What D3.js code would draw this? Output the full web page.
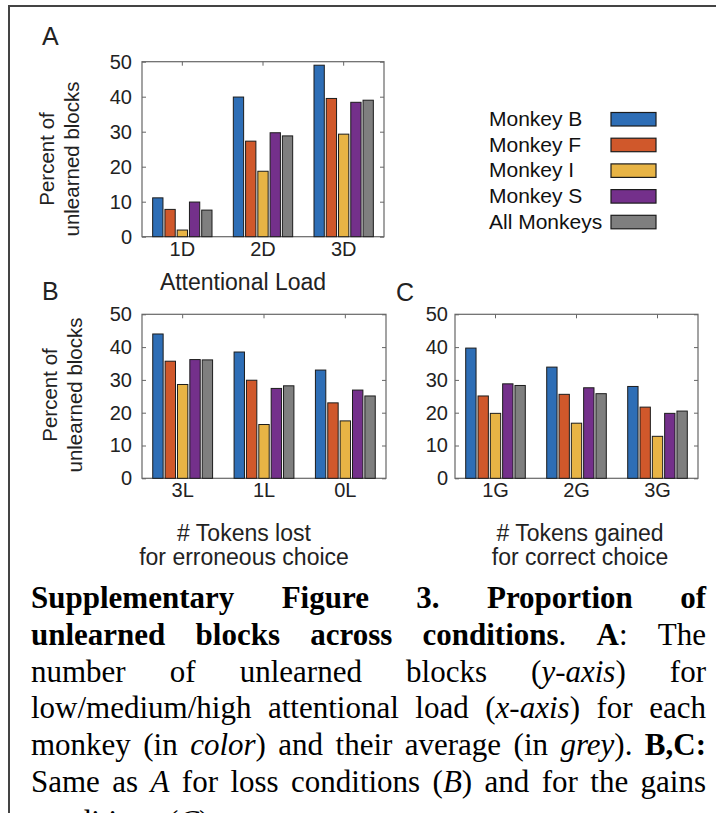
<!DOCTYPE html>
<html>
<head>
<meta charset="utf-8">
<script src="https://cdn.jsdelivr.net/npm/d3@7"></script>
<style>
  body { margin: 0; background: #fff; }
  svg { display: block; }
</style>
</head>
<body>
<div id="chart"></div>
<script>
const monkeys = ['Monkey B', 'Monkey F', 'Monkey I', 'Monkey S', 'All Monkeys'];
const colors = ['#2e6eb6', '#d0582b', '#e8b445', '#74308b', '#7f7f7f'];
const yTicks = [0, 10, 20, 30, 40, 50];

// panel A: attentional load
const loadCats = ['1D', '2D', '3D'];
const loadValues = [
  [11.1, 7.8, 1.9, 9.9, 7.6],
  [39.9, 27.3, 18.7, 29.7, 28.8],
  [49.0, 39.5, 29.3, 38.4, 39.0]
];
// panel B: tokens lost
const lossCats = ['3L', '1L', '0L'];
const lossValues = [
  [44.0, 35.7, 28.6, 36.2, 36.1],
  [38.5, 29.9, 16.4, 27.4, 28.2],
  [33.0, 23.0, 17.5, 26.9, 25.1]
];
// panel C: tokens gained
const gainCats = ['1G', '2G', '3G'];
const gainValues = [
  [39.7, 25.1, 19.8, 28.8, 28.3],
  [33.9, 25.6, 16.8, 27.6, 25.8],
  [28.0, 21.7, 12.8, 19.8, 20.5]
];

const captionLines = [
  '*Supplementary* *Figure* *3.* *Proportion* *of*',
  '*unlearned* *blocks* *across* *conditions*. *A*: The',
  'number of unlearned blocks (_y-axis_) for',
  'low/medium/high attentional load (_x-axis_) for each',
  'monkey (in _color_) and their average (in _grey_). *B,C:*',
  'Same as _A_ for loss conditions (_B_) and for the gains',
  'conditions (_C_).'
];

const width = 716, height = 813;
const sans = "'Liberation Sans', Arial, sans-serif";
const serif = "'Liberation Serif', 'Times New Roman', serif";

const svg = d3.select('#chart').append('svg')
  .attr('width', width)
  .attr('height', height);

// outer frame (left + top only, rest cropped)
svg.append('path')
  .attr('d', `M9,${height} V6 H${width}`)
  .attr('fill', 'none')
  .attr('stroke', '#444')
  .attr('stroke-width', 2);

function panel(p) {
  const g = svg.append('g');

  const x0 = d3.scaleBand()
    .domain(p.cats)
    .range([p.left, p.right])
    .padding(0);

  const gw = x0.bandwidth() * 0.76;
  const x1 = d3.scaleBand()
    .domain(d3.range(monkeys.length))
    .range([(x0.bandwidth() - gw) / 2, (x0.bandwidth() + gw) / 2])
    .paddingInner(0.16)
    .paddingOuter(0.08);

  const y = d3.scaleLinear()
    .domain([0, 50])
    .range([p.bottom, p.top]);

  // ticks pointing inward on all four sides
  const axes = [
    [d3.axisLeft(y).tickValues(yTicks).tickSize(-4).tickPadding(p.yPad), p.left, 0],
    [d3.axisRight(y).tickValues(yTicks).tickSize(-4).tickFormat(''), p.right, 0],
    [d3.axisTop(x0).tickSize(-4).tickFormat(''), 0, p.top],
    [d3.axisBottom(x0).tickSize(-4).tickPadding(5), 0, p.bottom]
  ];
  axes.forEach(([ax, tx, ty]) => {
    const a = g.append('g')
      .attr('transform', `translate(${tx},${ty})`)
      .call(ax);
    a.select('.domain').remove();
    a.selectAll('line').attr('stroke', '#666');
    a.selectAll('text')
      .attr('font-family', sans)
      .attr('font-size', 20)
      .attr('fill', '#222');
  });

  g.append('rect')
    .attr('x', p.left)
    .attr('y', p.top)
    .attr('width', p.right - p.left)
    .attr('height', p.bottom - p.top)
    .attr('fill', 'none')
    .attr('stroke', '#666')
    .attr('stroke-width', 1.2);

  g.append('g')
    .selectAll('g')
    .data(p.values)
    .join('g')
      .attr('transform', (d, i) => `translate(${x0(p.cats[i])},0)`)
    .selectAll('rect')
    .data(d => d)
    .join('rect')
      .attr('x', (d, j) => x1(j))
      .attr('y', d => y(d))
      .attr('width', x1.bandwidth())
      .attr('height', d => y(0) - y(d))
      .attr('fill', (d, j) => colors[j])
      .attr('stroke', '#1c1c1c')
      .attr('stroke-width', 1);

  // y label, two rotated lines
  p.yLabel.forEach((t, i) => {
    g.append('text')
      .attr('transform', `translate(${p.yLabelX[i]},${p.yLabelY}) rotate(-90)`)
      .attr('text-anchor', 'middle')
      .attr('font-family', sans)
      .attr('font-size', 20.5)
      .attr('fill', '#222')
      .text(t);
  });

  p.xLabel.forEach((t, i) => {
    g.append('text')
      .attr('x', p.xLabelX)
      .attr('y', p.xLabelY + i * 24)
      .attr('text-anchor', 'middle')
      .attr('font-family', sans)
      .attr('font-size', 23)
      .attr('fill', '#222')
      .text(t);
  });

  g.append('text')
    .attr('x', p.letterX)
    .attr('y', p.letterY)
    .attr('font-family', sans)
    .attr('font-size', 25)
    .attr('fill', '#222')
    .text(p.letter);
}

panel({
  cats: loadCats, values: loadValues,
  left: 142, right: 384, top: 61.7, bottom: 236.7, yPad: 10,
  yLabel: ['Percent of', 'unlearned blocks'], yLabelX: [54, 79], yLabelY: 159,
  xLabel: ['Attentional Load'], xLabelX: 243, xLabelY: 290,
  letter: 'A', letterX: 42, letterY: 45
});

panel({
  cats: lossCats, values: lossValues,
  left: 142, right: 386, top: 314.3, bottom: 478.3, yPad: 10,
  yLabel: ['Percent of', 'unlearned blocks'], yLabelX: [57, 82], yLabelY: 395,
  xLabel: ['# Tokens lost', 'for erroneous choice'], xLabelX: 244, xLabelY: 541,
  letter: 'B', letterX: 42, letterY: 300
});

panel({
  cats: gainCats, values: gainValues,
  left: 455, right: 698, top: 314.3, bottom: 478.3, yPad: 7,
  yLabel: [], yLabelX: [], yLabelY: 0,
  xLabel: ['# Tokens gained', 'for correct choice'], xLabelX: 580, xLabelY: 541,
  letter: 'C', letterX: 396, letterY: 301
});

// legend
const legend = svg.append('g');
monkeys.forEach((m, i) => {
  const by = 126 + i * 25.7;
  legend.append('text')
    .attr('x', 489)
    .attr('y', by)
    .attr('font-family', sans)
    .attr('font-size', 21)
    .attr('fill', '#111')
    .text(m);
  legend.append('rect')
    .attr('x', 611)
    .attr('y', by - 13.5)
    .attr('width', 45)
    .attr('height', 13.5)
    .attr('fill', colors[i])
    .attr('stroke', '#1c1c1c')
    .attr('stroke-width', 1.2);
});

// caption, justified line by line; the last line runs off the bottom edge as in the source
const capLeft = 31, capRight = 706, capSize = 31, capTop = 608, capStep = 36.8;
const cap = svg.append('g')
  .attr('font-family', serif)
  .attr('font-size', capSize)
  .attr('fill', '#000');

captionLines.forEach((line, li) => {
  const words = line.split(' ');
  const last = li === captionLines.length - 1;
  const by = capTop + li * capStep + (last ? 3 : 0);
  const nodes = words.map(w => {
    const t = cap.append('text').attr('y', by);
    (w.match(/\*[^*]+\*|_[^_]+_|[^*_]+/g) || []).forEach(piece => {
      const ts = t.append('tspan');
      if (piece[0] === '*') ts.attr('font-weight', 'bold').text(piece.slice(1, -1));
      else if (piece[0] === '_') ts.attr('font-style', 'italic').text(piece.slice(1, -1));
      else ts.text(piece);
    });
    return t;
  });
  const widths = nodes.map(t => t.node().getComputedTextLength());
  const total = d3.sum(widths);
  const gap = last ? capSize * 0.25 : (capRight - capLeft - total) / (words.length - 1);
  let x = capLeft;
  nodes.forEach((t, i) => {
    t.attr('x', x);
    x += widths[i] + gap;
  });
});
</script>
</body>
</html>
